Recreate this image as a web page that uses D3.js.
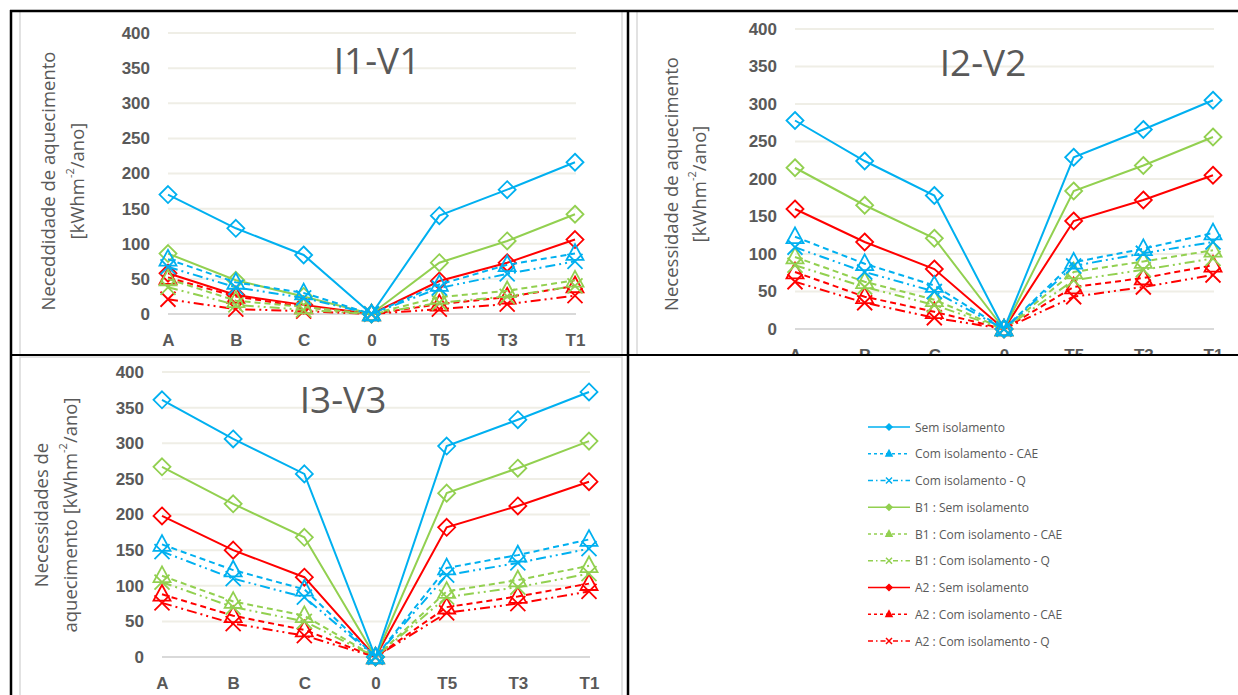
<!DOCTYPE html>
<html>
<head>
<meta charset="utf-8">
<script src="https://cdn.jsdelivr.net/npm/d3@7"></script>
<style>
  body { margin: 0; background: #fff; }
  svg { display: block; }
</style>
</head>
<body>
<script>
// categories and ticks
var categories = ['A', 'B', 'C', '0', 'T5', 'T3', 'T1'];
var yTicks = [0, 50, 100, 150, 200, 250, 300, 350, 400];

var seriesNames = [
  'Sem isolamento', 'Com isolamento - CAE', 'Com isolamento - Q',
  'B1 : Sem isolamento', 'B1 : Com isolamento - CAE', 'B1 : Com isolamento - Q',
  'A2 : Sem isolamento', 'A2 : Com isolamento - CAE', 'A2 : Com isolamento - Q'
];

// I1-V1
var i1Sem    = [170, 122, 84, 0, 140, 177, 216];
var i1Cae    = [78, 45, 30, 0, 42, 70, 86];
var i1Q      = [67, 38, 23, 0, 37, 57, 75];
var i1B1Sem  = [86, 48, 25, 0, 73, 104, 142];
var i1B1Cae  = [50, 19, 10, 0, 24, 33, 48];
var i1B1Q    = [38, 13, 6, 0, 16, 25, 40];
var i1A2Sem  = [58, 27, 13, 0, 47, 73, 106];
var i1A2Cae  = [52, 25, 10, 0, 14, 24, 40];
var i1A2Q    = [21, 7, 4, 0, 7, 14, 26];

// I2-V2
var i2Sem    = [278, 224, 178, 0, 229, 266, 305];
var i2Cae    = [123, 87, 58, 0, 89, 107, 128];
var i2Q      = [109, 76, 50, 0, 84, 101, 116];
var i2B1Sem  = [215, 165, 121, 0, 184, 218, 256];
var i2B1Cae  = [96, 63, 39, 0, 76, 90, 105];
var i2B1Q    = [85, 56, 32, 0, 65, 79, 94];
var i2A2Sem  = [160, 116, 80, 0, 144, 172, 205];
var i2A2Cae  = [76, 43, 23, 0, 56, 68, 85];
var i2A2Q    = [63, 35, 15, 0, 43, 56, 72];

// I3-V3
var i3Sem    = [361, 306, 257, 0, 296, 333, 372];
var i3Cae    = [158, 122, 95, 0, 125, 143, 165];
var i3Q      = [148, 110, 84, 0, 115, 132, 152];
var i3B1Sem  = [267, 215, 168, 0, 230, 265, 303];
var i3B1Cae  = [114, 78, 58, 0, 92, 108, 128];
var i3B1Q    = [105, 70, 50, 0, 84, 98, 117];
var i3A2Sem  = [198, 150, 112, 0, 182, 212, 246];
var i3A2Cae  = [88, 58, 38, 0, 70, 85, 103];
var i3A2Q    = [76, 47, 30, 0, 62, 75, 92];

var blue = '#00b0f0', green = '#92d050', red = '#ff0000';
var styles = [
  {color: blue,  dash: null,  marker: 'diamond'},
  {color: blue,  dash: '6,4', marker: 'triangle'},
  {color: blue,  dash: '10,4,2,4,2,4', marker: 'x'},
  {color: green, dash: null,  marker: 'diamond'},
  {color: green, dash: '6,4', marker: 'triangle'},
  {color: green, dash: '10,4,2,4,2,4', marker: 'x'},
  {color: red,   dash: null,  marker: 'diamond'},
  {color: red,   dash: '6,4', marker: 'triangle'},
  {color: red,   dash: '10,4,2,4,2,4', marker: 'x'}
];

var panels = [
  {title: 'I1-V1', data: [i1Sem, i1Cae, i1Q, i1B1Sem, i1B1Cae, i1B1Q, i1A2Sem, i1A2Cae, i1A2Q],
   x: [168, 575], y: [314, 33], titleX: 377, titleY: 74,
   ylab: ['Neceddidade de aquecimento', '[kWhm|/ano]'], ylabX: [47, 76], ylabY: 181,
   frame: [20, 11, 602, 360], clip: [10, 11, 618, 344]},
  {title: 'I2-V2', data: [i2Sem, i2Cae, i2Q, i2B1Sem, i2B1Cae, i2B1Q, i2A2Sem, i2A2Cae, i2A2Q],
   x: [795, 1213], y: [329, 29], titleX: 983, titleY: 76,
   ylab: ['Necessidade de aquecimento', '[kWhm|/ano]'], ylabX: [670, 698], ylabY: 184,
   frame: [637, 11, 620, 344], clip: [628, 11, 610, 343]},
  {title: 'I3-V3', data: [i3Sem, i3Cae, i3Q, i3B1Sem, i3B1Cae, i3B1Q, i3A2Sem, i3A2Cae, i3A2Q],
   x: [162, 589], y: [657, 372], titleX: 343, titleY: 413,
   ylab: ['Necessidades de', 'aquecimento [kWhm|/ano]'], ylabX: [40, 69], ylabY: 515,
   frame: [20, 357, 602, 360], clip: [10, 355, 618, 340]}
];

var svg = d3.select('body').append('svg')
  .attr('width', 1238)
  .attr('height', 695);

var markerPath = {
  diamond: function(s) { return 'M0,' + (-s) + 'L' + s + ',0L0,' + s + 'L' + (-s) + ',0Z'; },
  triangle: function(s) { return 'M0,' + (-s * 1.1) + 'L' + s + ',' + (s * 0.75) + 'L' + (-s) + ',' + (s * 0.75) + 'Z'; },
  x: function(s) { return 'M' + (-s) + ',' + (-s) + 'L' + s + ',' + s + 'M' + (-s) + ',' + s + 'L' + s + ',' + (-s); }
};

function yLabel(g, str, x, y) {
  var t = g.append('text')
    .attr('transform', 'translate(' + x + ',' + y + ') rotate(-90)')
    .attr('text-anchor', 'middle')
    .attr('dominant-baseline', 'central')
    .attr('font-family', 'Open Sans, sans-serif')
    .attr('font-size', 18.5)
    .attr('fill', '#595959');
  var parts = str.split('|');
  t.append('tspan').text(parts[0]);
  if (parts.length > 1) {
    t.append('tspan').attr('font-size', 11).attr('dy', -7).text('-2');
    t.append('tspan').attr('dy', 7).text(parts[1]);
  }
}

panels.forEach(function(p, pi) {
  var clipId = 'clip' + pi;
  svg.append('clipPath').attr('id', clipId)
    .append('rect')
    .attr('x', p.clip[0]).attr('y', p.clip[1])
    .attr('width', p.clip[2]).attr('height', p.clip[3]);

  var g = svg.append('g').attr('clip-path', 'url(#' + clipId + ')');

  g.append('rect')
    .attr('x', p.frame[0]).attr('y', p.frame[1])
    .attr('width', p.frame[2]).attr('height', p.frame[3])
    .attr('fill', '#fff')
    .attr('stroke', '#d9d9d9')
    .attr('stroke-width', 1.5);

  var x = d3.scalePoint().domain(categories).range(p.x);
  var y = d3.scaleLinear().domain([0, 400]).range(p.y);

  // gridlines
  g.selectAll('.grid').data(yTicks).enter().append('line')
    .attr('x1', p.x[0]).attr('x2', p.x[1] + 1)
    .attr('y1', function(d) { return y(d); })
    .attr('y2', function(d) { return y(d); })
    .attr('stroke', function(d) { return d === 0 ? '#d9d9d9' : '#efeee6'; })
    .attr('stroke-width', 2);

  // y axis
  var yAxis = g.append('g')
    .attr('transform', 'translate(' + (p.x[0] - 18) + ',0)')
    .call(d3.axisLeft(y).tickValues(yTicks).tickSize(0).tickPadding(0));
  yAxis.select('.domain').remove();
  yAxis.selectAll('text')
    .attr('font-family', 'Liberation Sans Narrow, Liberation Sans, sans-serif')
    .attr('font-weight', 'bold')
    .attr('font-size', 17)
    .attr('fill', '#595959');

  // x axis
  var xAxis = g.append('g')
    .attr('transform', 'translate(0,' + (y(0) + 20) + ')')
    .call(d3.axisBottom(x).tickSize(0).tickPadding(0));
  xAxis.select('.domain').remove();
  xAxis.selectAll('text')
    .attr('font-family', 'Liberation Sans Narrow, Liberation Sans, sans-serif')
    .attr('font-weight', 'bold')
    .attr('font-size', 17)
    .attr('fill', '#595959');

  // title
  g.append('text')
    .attr('x', p.titleX).attr('y', p.titleY)
    .attr('text-anchor', 'middle')
    .attr('font-family', 'Open Sans, sans-serif')
    .attr('font-size', 37)
    .attr('fill', '#595959')
    .text(p.title);

  yLabel(g, p.ylab[0], p.ylabX[0], p.ylabY);
  yLabel(g, p.ylab[1], p.ylabX[1], p.ylabY);

  var line = d3.line()
    .x(function(d, i) { return x(categories[i]); })
    .y(function(d) { return y(d); });

  // draw in reverse so blue series sit on top
  for (var si = p.data.length - 1; si >= 0; si--) {
    var st = styles[si];
    var vals = p.data[si];
    g.append('path')
      .datum(vals)
      .attr('d', line)
      .attr('fill', 'none')
      .attr('stroke', st.color)
      .attr('stroke-width', 2)
      .attr('stroke-dasharray', st.dash);
    g.selectAll(null).data(vals).enter().append('path')
      .attr('transform', function(d, i) { return 'translate(' + x(categories[i]) + ',' + y(d) + ')'; })
      .attr('d', markerPath[st.marker](st.marker === 'x' ? 7.5 : 8.5))
      .attr('fill', 'none')
      .attr('stroke', st.color)
      .attr('stroke-width', 1.8);
  }
});

// legend
var legend = svg.append('g').attr('transform', 'translate(868,427)');
seriesNames.forEach(function(name, i) {
  var st = styles[i];
  var row = legend.append('g').attr('transform', 'translate(0,' + (i * 26.75) + ')');
  row.append('line')
    .attr('x1', 0).attr('x2', 42)
    .attr('stroke', st.color)
    .attr('stroke-width', 1.5)
    .attr('stroke-dasharray', st.dash ? (st.marker === 'x' ? '5,3,1.5,3' : '3,3') : null);
  row.append('path')
    .attr('transform', 'translate(21,0)')
    .attr('d', markerPath[st.marker](3))
    .attr('fill', st.marker === 'x' ? 'none' : st.color)
    .attr('stroke', st.color)
    .attr('stroke-width', 1.5);
  row.append('text')
    .attr('x', 47).attr('y', 0)
    .attr('dominant-baseline', 'central')
    .attr('font-family', 'Open Sans, sans-serif')
    .attr('font-size', 12)
    .attr('fill', '#595959')
    .text(name);
});

// table borders
var borders = svg.append('g').attr('stroke', '#000').attr('fill', 'none');
borders.append('line').attr('x1', 10).attr('x2', 1238).attr('y1', 11).attr('y2', 11).attr('stroke-width', 2.5);
borders.append('line').attr('x1', 11).attr('x2', 11).attr('y1', 10).attr('y2', 695).attr('stroke-width', 2.5);
borders.append('line').attr('x1', 628).attr('x2', 628).attr('y1', 10).attr('y2', 695).attr('stroke-width', 2.5);
borders.append('line').attr('x1', 10).attr('x2', 1238).attr('y1', 355).attr('y2', 355).attr('stroke-width', 2);
</script>
</body>
</html>
